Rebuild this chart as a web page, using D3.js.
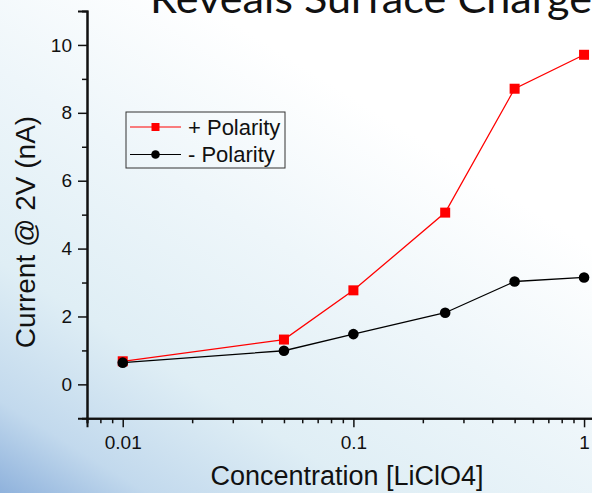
<!DOCTYPE html>
<html>
<head>
<meta charset="utf-8">
<script src="https://cdn.jsdelivr.net/npm/d3@7"></script>
<style>
  html, body { margin: 0; padding: 0; overflow: hidden; background: #fff; }
  svg { display: block; }
</style>
</head>
<body>
<svg id="chart" width="592" height="493"></svg>
<script>
// ---- data ----
const concentrations = [0.01, 0.05, 0.1, 0.25, 0.5, 1];
const plusPolarity  = [0.68, 1.32, 2.77, 5.06, 8.71, 9.71];
const minusPolarity = [0.64, 0.99, 1.48, 2.11, 3.03, 3.15];
const seriesNames = ["+ Polarity", "- Polarity"];
const xMajorTicks = [0.01, 0.1, 1];
const xTickLabels = ["0.01", "0.1", "1"];
const yMajorTicks = [0, 2, 4, 6, 8, 10];
const yMinorTicks = [-1, 1, 3, 5, 7, 9, 11];
const titleText = "Reveals Surface Charge";
const xTitle = "Concentration [LiClO4]";
const yTitle = "Current @ 2V (nA)";

const W = 592, H = 493;
const svg = d3.select("#chart");

// ---- background ----
const defs = svg.append("defs");
const bg = defs.append("linearGradient").attr("id", "bg")
  .attr("x1", "0").attr("y1", "1").attr("x2", "0.75").attr("y2", "0");
bg.append("stop").attr("offset", "0").attr("stop-color", "#8fb2dc");
bg.append("stop").attr("offset", "0.12").attr("stop-color", "#c2d9ed");
bg.append("stop").attr("offset", "0.3").attr("stop-color", "#dfeef5");
bg.append("stop").attr("offset", "0.55").attr("stop-color", "#eef6fa");
bg.append("stop").attr("offset", "0.8").attr("stop-color", "#ffffff");
svg.append("rect").attr("width", W).attr("height", H).attr("fill", "url(#bg)");

// ---- scales ----
const x = d3.scaleLog().domain([0.007, 1.27]).range([87, 608]);
const y = d3.scaleLinear().domain([-1, 11]).range([418.3, 11]);

// ---- title (cut off at top, as in the reference) ----
svg.append("text")
  .attr("x", 150).attr("y", 13)
  .attr("font-family", "Lato, 'Open Sans', sans-serif")
  .attr("font-size", 40)
  .attr("fill", "#111")
  .attr("textLength", 442).attr("lengthAdjust", "spacingAndGlyphs")
  .text(titleText);

const font = "'Liberation Sans', Arial, sans-serif";

// ---- axes ----
const xMinor = [];
for (let d = -3; d <= 0; d++) for (let m = 2; m <= 9; m++) {
  const v = m * Math.pow(10, d);
  if (v >= 0.007 && v <= 1.27) xMinor.push(v);
}
const xAxisMinor = d3.axisBottom(x).tickValues(xMinor).tickSize(5).tickFormat("");
const xAxisMajor = d3.axisBottom(x).tickValues(xMajorTicks).tickSize(9)
  .tickFormat((d, i) => xTickLabels[i]).tickPadding(8);
const gxm = svg.append("g").attr("transform", `translate(0,${y(-1)})`).call(xAxisMinor);
const gx = svg.append("g").attr("transform", `translate(0,${y(-1)})`).call(xAxisMajor);
[gxm, gx].forEach(g => {
  g.selectAll(".domain").attr("stroke", "#111").attr("stroke-width", 2);
  g.selectAll(".tick line").attr("stroke", "#111").attr("stroke-width", 1.5);
});
gx.selectAll(".tick text").attr("font-family", font).attr("font-size", 19).attr("fill", "#111");

const yAxisMinor = d3.axisLeft(y).tickValues(yMinorTicks.filter(v => v > -1 && v < 11)).tickSize(5).tickFormat("");
const yAxisMajor = d3.axisLeft(y).tickValues(yMajorTicks).tickSize(9).tickPadding(6);
const gym = svg.append("g").attr("transform", `translate(${x(0.007)},0)`).call(yAxisMinor);
const gy = svg.append("g").attr("transform", `translate(${x(0.007)},0)`).call(yAxisMajor);
[gym, gy].forEach(g => {
  g.selectAll(".domain").attr("stroke", "#111").attr("stroke-width", 2);
  g.selectAll(".tick line").attr("stroke", "#111").attr("stroke-width", 1.5);
});
gy.selectAll(".tick text").attr("font-family", font).attr("font-size", 19).attr("fill", "#111");

// ---- axis titles ----
svg.append("text")
  .attr("x", 347).attr("y", 485)
  .attr("text-anchor", "middle")
  .attr("font-family", font).attr("font-size", 27).attr("fill", "#111")
  .text(xTitle);
svg.append("text")
  .attr("transform", `translate(35,232) rotate(-90)`)
  .attr("text-anchor", "middle")
  .attr("font-family", font).attr("font-size", 28).attr("fill", "#111")
  .text(yTitle);

// ---- series ----
const line = d3.line().x(d => x(d[0])).y(d => y(d[1]));
const plusData = concentrations.map((c, i) => [c, plusPolarity[i]]);
const minusData = concentrations.map((c, i) => [c, minusPolarity[i]]);

svg.append("path").datum(plusData).attr("d", line)
  .attr("fill", "none").attr("stroke", "#ff0000").attr("stroke-width", 1.3);
svg.selectAll(".sq").data(plusData).enter().append("rect")
  .attr("x", d => x(d[0]) - 5).attr("y", d => y(d[1]) - 5)
  .attr("width", 10).attr("height", 10).attr("fill", "#ff0000");

svg.append("path").datum(minusData).attr("d", line)
  .attr("fill", "none").attr("stroke", "#000").attr("stroke-width", 1.3);
svg.selectAll(".ci").data(minusData).enter().append("circle")
  .attr("cx", d => x(d[0])).attr("cy", d => y(d[1])).attr("r", 5.3).attr("fill", "#000");

// ---- legend ----
const lg = svg.append("g");
lg.append("rect").attr("x", 126).attr("y", 112).attr("width", 159).attr("height", 56)
  .attr("fill", "none").attr("stroke", "#333").attr("stroke-width", 1);
const rows = [
  { name: seriesNames[0], color: "#ff0000", shape: "square", cy: 127 },
  { name: seriesNames[1], color: "#000", shape: "circle", cy: 154.5 }
];
rows.forEach(r => {
  lg.append("line").attr("x1", 130).attr("x2", 181).attr("y1", r.cy).attr("y2", r.cy)
    .attr("stroke", r.color).attr("stroke-width", 1.2);
  if (r.shape === "square") {
    lg.append("rect").attr("x", 151.5).attr("y", r.cy - 4).attr("width", 8).attr("height", 8).attr("fill", r.color);
  } else {
    lg.append("circle").attr("cx", 155.5).attr("cy", r.cy).attr("r", 4.3).attr("fill", r.color);
  }
  lg.append("text").attr("x", 188).attr("y", r.cy + 7.5)
    .attr("font-family", font).attr("font-size", 22).attr("fill", "#111")
    .text(r.name);
});
</script>
</body>
</html>
